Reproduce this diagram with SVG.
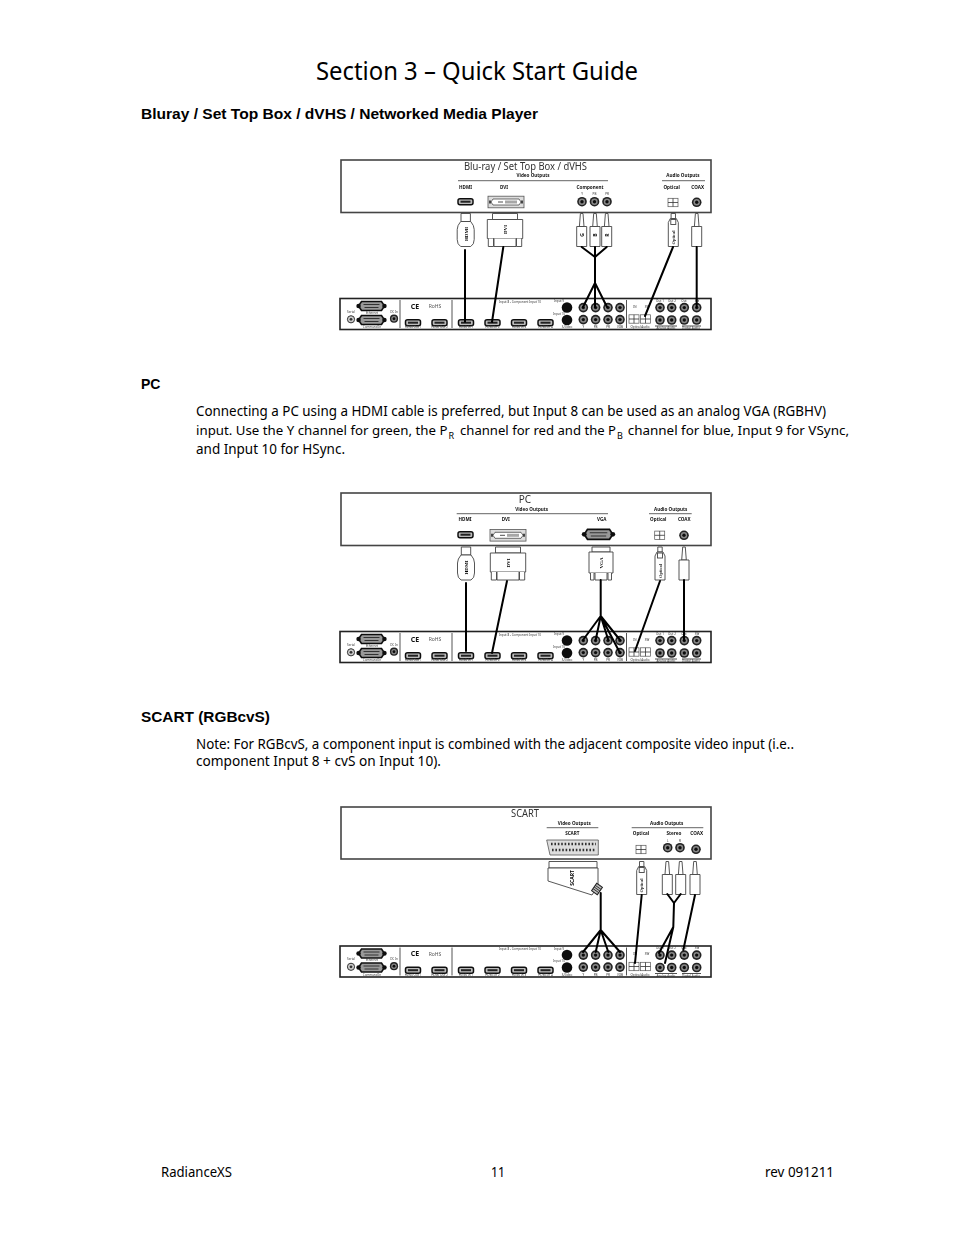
<svg xmlns="http://www.w3.org/2000/svg" xmlns:xlink="http://www.w3.org/1999/xlink" width="954" height="1235" viewBox="0 0 954 1235">
<style>
.t{font-family:"Noto Sans","DejaVu Sans",sans-serif;fill:#000}
.b{font-size:13.5px}
.h{font-family:"Liberation Sans",Arial,sans-serif;font-weight:700;font-size:14px;fill:#000}
.s{font-family:"Noto Sans","DejaVu Sans",sans-serif;fill:#111}
.ti{font-size:10px;fill:#333}
.lb{font-size:4.6px;font-weight:700;text-anchor:middle}
.tn{font-size:3px;text-anchor:middle;fill:#333}
.rt{font-size:5px;font-weight:700;text-anchor:middle}
.box{fill:#fff;stroke:#444;stroke-width:1.6}
.ln{fill:none;stroke:#222;stroke-width:.7}
.pl{fill:#fff;stroke:#444;stroke-width:.9}
.cb{fill:none;stroke:#000;stroke-width:2;stroke-linecap:round;stroke-linejoin:round}
</style>
<defs>
<filter id="bl" x="-2%" y="-2%" width="104%" height="104%"><feGaussianBlur stdDeviation="0.45"/></filter>
<g id="jack"><circle r="4.8" fill="#222"/><circle r="3.2" fill="#888"/><circle r="1.7" fill="#111"/></g>
<g id="hd"><rect x="-7.5" y="-3" width="15" height="6" rx="2" fill="#bbb" stroke="#111" stroke-width="1.5"/><rect x="-5" y="-1" width="10" height="2" fill="#222"/></g>
<g id="opt"><rect x="-5" y="-4.2" width="10" height="8.4" fill="#fff" stroke="#555" stroke-width=".7"/><path d="M0-4.2V4.2M-5 0H5" stroke="#333" stroke-width=".8"/></g>
<g id="db"><path d="M-10-4.5H10L12-1.5V1.5L10 4.5H-10L-12 1.5V-1.5Z" fill="#999" stroke="#111" stroke-width="1.6"/><circle cx="-13" r="2.2" fill="#111"/><circle cx="13" r="2.2" fill="#111"/><path d="M-8-1.5H8M-7 1.5H7" stroke="#333" stroke-width="1"/></g>
<g id="dvi"><rect x="-18" y="-5.8" width="36" height="11.6" fill="#ddd" stroke="#555" stroke-width=".8"/><path d="M-13-3H13L15 0 13 3H-13L-15 0Z" fill="#fff" stroke="#333" stroke-width=".7"/><path d="M-16-1.5V1.5M16-1.5V1.5" stroke="#222" stroke-width="1.6"/><path d="M-8 0H-3M0-1.5V1.5M2-1.5V1.5M4-1.5V1.5M6-1.5V1.5M8-1.5V1.5M10-1.5V1.5" stroke="#222" stroke-width=".8"/></g>
<g id="rcaP"><path d="M-1.3 0H1.3L2.3 13H-2.3Z" class="pl"/><path d="M-5 33V13H5V33Z" class="pl"/></g>
<g id="optP"><path d="M-2.2 0H2.2V5H-2.2Z" class="pl"/><path d="M-5 33V9L-3 5H3L5 9V33Z" class="pl"/><rect x="-2.5" y="6" width="5" height="5" class="pl"/><text class="tn" style="font-size:4.4px;font-weight:700" transform="translate(1.6,24) rotate(-90)">Optical</text></g>
<g id="hdP"><path d="M-4.7 0H4.7V8H-4.7Z" class="pl"/><path d="M-5 8H5Q8.5 12 8.5 16V26Q8.5 31 5 33H-5Q-8.5 31-8.5 26V16Q-8.5 12-5 8Z" class="pl"/><text class="rt" transform="translate(1.8,20.5) rotate(-90)">HDMI</text></g>
<g id="dviP"><path d="M-12.5 0H12.5V6H-12.5Z" class="pl"/><path d="M-17.7 6H17.7V25H-17.7Z" class="pl"/><path d="M-11 25V33H11V25M-16.7 25V33H-11.5V25M11.5 25V33H16.7V25" class="pl"/><text class="rt" transform="translate(1.8,16) rotate(-90)">DVI</text></g>
<g id="rear">
<rect x="340" y="298.5" width="371" height="31" class="box" style="stroke:#222"/>
<path d="M400 300V328M452 300V328M626.5 300V328" stroke="#555" stroke-width="1"/>
<use href="#db" x="371.5" y="306"/><use href="#db" x="371.5" y="320"/>
<g transform="translate(351,319.3)"><circle r="3.6" fill="#ccc" stroke="#333"/><circle r="1.4" fill="#333"/></g>
<g transform="translate(394,318.7) scale(.85)"><use href="#jack"/></g>
<text class="s tn" x="351" y="312.5">Serial</text><text class="s tn" x="394" y="312.5">DC In</text>
<text class="s tn" x="372" y="313.5">Ethernet</text><text class="s tn" x="372" y="328">Command In</text>
<text x="415" y="308.5" class="s" style="font-size:7px;font-weight:700;text-anchor:middle">CE</text>
<text x="435" y="308" class="s" style="font-size:5px;text-anchor:middle;fill:#555">RoHS</text>
<use href="#hd" x="413" y="322.7"/><use href="#hd" x="439.5" y="322.7"/><use href="#hd" x="466" y="322.7"/><use href="#hd" x="492.5" y="322.7"/><use href="#hd" x="519" y="322.7"/><use href="#hd" x="545.5" y="322.7"/>
<text class="s tn" x="413" y="328.3">HDMI Out 1</text><text class="s tn" x="439.5" y="328.3">HDMI Out 2</text><text class="s tn" x="466" y="328.3">HDMI In 1</text><text class="s tn" x="492.5" y="328.3">HDMI In 2</text><text class="s tn" x="519" y="328.3">HDMI In 3</text><text class="s tn" x="545.5" y="328.3">HDMI In 4</text>
<text class="s tn" x="520" y="302.5">Input 8 - Component Input 10</text>
<circle cx="567" cy="307.5" r="5.3" fill="#111"/><circle cx="567" cy="320" r="5.3" fill="#111"/>
<text class="s tn" x="559" y="302">Input 9</text><text class="s tn" x="559" y="314.5">Input 10</text><text class="s tn" x="567" y="328.3">S-Video</text>
<use href="#jack" x="583.3" y="307.6"/><use href="#jack" x="595.6" y="307.6"/><use href="#jack" x="608" y="307.6"/><use href="#jack" x="620" y="307.6"/>
<use href="#jack" x="583.3" y="319.6"/><use href="#jack" x="595.6" y="319.6"/><use href="#jack" x="608" y="319.6"/><use href="#jack" x="620" y="319.6"/>
<text class="s tn" x="583.3" y="328.3">Y</text><text class="s tn" x="595.6" y="328.3">PB</text><text class="s tn" x="608" y="328.3">PR</text><text class="s tn" x="620" y="328.3">VOB</text>
<text class="s tn" x="635" y="307.5">IN</text><text class="s tn" x="647" y="307.5">SW</text>
<use href="#opt" x="634" y="319"/><use href="#opt" x="645.5" y="319"/>
<text class="s tn" x="640" y="328.3">Optical Audio</text>
<use href="#jack" x="660" y="307.6"/><use href="#jack" x="671.7" y="307.6"/><use href="#jack" x="684.3" y="307.6"/><use href="#jack" x="696.7" y="307.6"/>
<use href="#jack" x="660" y="320"/><use href="#jack" x="671.7" y="320"/><use href="#jack" x="684.3" y="320"/><use href="#jack" x="696.7" y="320"/>
<path d="M655 326H677M682 326H701" stroke="#222" stroke-width=".8"/>
<text class="s tn" x="666" y="329">Analog Audio</text><text class="s tn" x="691" y="329">Digital Audio</text>
<text class="s tn" x="660" y="301.5">Out 1</text><text class="s tn" x="672" y="301.5">Out 2</text><text class="s tn" x="684" y="301.5">Out</text><text class="s tn" x="697" y="301.5">SW</text>
</g>
</defs>
<rect width="954" height="1235" fill="#fff"/>
<g id="page-text">
<text class="t" x="316" y="80" font-size="25" textLength="322" lengthAdjust="spacingAndGlyphs">Section 3 – Quick Start Guide</text>
<text class="h" x="141" y="119" textLength="397" lengthAdjust="spacingAndGlyphs">Bluray / Set Top Box / dVHS / Networked Media Player</text>
<text class="h" x="141" y="389">PC</text>
<text class="t b" x="196" y="416" textLength="630" lengthAdjust="spacingAndGlyphs">Connecting a PC using a HDMI cable is preferred, but Input 8 can be used as an analog VGA (RGBHV)</text>
<text class="t" style="font-size:13px" y="435"><tspan x="196" textLength="251.5" lengthAdjust="spacingAndGlyphs">input. Use the Y channel for green, the P</tspan><tspan x="448.5" y="439" font-size="9">R</tspan><tspan x="460" y="435" textLength="156" lengthAdjust="spacingAndGlyphs">channel for red and the P</tspan><tspan x="617" y="439" font-size="9">B</tspan><tspan x="627.7" y="435" textLength="221.3" lengthAdjust="spacingAndGlyphs">channel for blue, Input 9 for VSync,</tspan></text>
<text class="t b" x="196" y="454" textLength="149" lengthAdjust="spacingAndGlyphs">and Input 10 for HSync.</text>
<text class="h" x="141" y="722" textLength="129" lengthAdjust="spacingAndGlyphs">SCART (RGBcvS)</text>
<text class="t b" x="196" y="749" textLength="598" lengthAdjust="spacingAndGlyphs">Note: For RGBcvS, a component input is combined with the adjacent composite video input (i.e..</text>
<text class="t b" x="196" y="766" textLength="245" lengthAdjust="spacingAndGlyphs">component Input 8 + cvS on Input 10).</text>
<text class="t b" x="161" y="1177" textLength="71" lengthAdjust="spacingAndGlyphs">RadianceXS</text>
<text class="t b" x="491" y="1177" textLength="14" lengthAdjust="spacingAndGlyphs">11</text>
<text class="t b" x="765" y="1177" textLength="69" lengthAdjust="spacingAndGlyphs">rev 091211</text>
</g>
<g filter="url(#bl)">
<g id="source-bluray">
<rect x="341" y="160" width="370" height="52.5" class="box"/>
<text class="s ti" x="464" y="170" textLength="123" lengthAdjust="spacingAndGlyphs">Blu-ray / Set Top Box / dVHS</text>
<text class="s lb" x="533" y="177">Video Outputs</text><text class="s lb" x="683" y="177">Audio Outputs</text>
<path d="M458 180.7H608M662 180.7H705" class="ln"/>
<text class="s lb" x="465.5" y="188.5">HDMI</text><text class="s lb" x="504" y="188.5">DVI</text><text class="s lb" x="590" y="188.5">Component</text><text class="s lb" x="671.7" y="188.5">Optical</text><text class="s lb" x="697.7" y="188.5">COAX</text>
<text class="s tn" x="582" y="194.5">Y</text><text class="s tn" x="594.5" y="194.5">PB</text><text class="s tn" x="607" y="194.5">PR</text>
<use href="#hd" x="465.5" y="201.7"/><use href="#dvi" x="506" y="202"/>
<use href="#jack" x="582" y="201.7"/><use href="#jack" x="594.5" y="201.7"/><use href="#jack" x="607" y="201.7"/>
<use href="#opt" x="673" y="202.5"/><use href="#jack" x="696.7" y="202.3"/>
<use href="#hdP" x="465.7" y="213.5"/><use href="#dviP" x="505" y="213.5"/>
<use href="#rcaP" x="581.7" y="213.5"/><use href="#rcaP" x="595" y="213.5"/><use href="#rcaP" x="606.7" y="213.5"/>
<text class="s rt" transform="translate(583.5,235) rotate(-90)">G</text><text class="s rt" transform="translate(596.8,235) rotate(-90)">B</text><text class="s rt" transform="translate(608.5,235) rotate(-90)">R</text>
<use href="#optP" x="673.3" y="213.5"/><use href="#rcaP" x="696.7" y="213.5"/>
</g>
<g id="processor-1"><use href="#rear"/></g>
<g id="source-pc">
<rect x="341" y="493" width="370" height="52.5" class="box"/>
<text class="s ti" x="525" y="503" style="text-anchor:middle">PC</text>
<text class="s lb" x="531.7" y="511">Video Outputs</text><text class="s lb" x="670.7" y="511">Audio Outputs</text>
<path d="M456.7 513.7H608M649 513.7H691.7" class="ln"/>
<text class="s lb" x="465" y="521">HDMI</text><text class="s lb" x="505.7" y="521">DVI</text><text class="s lb" x="601.7" y="521">VGA</text><text class="s lb" x="658.3" y="521">Optical</text><text class="s lb" x="684.3" y="521">COAX</text>
<use href="#hd" x="465.5" y="534.7"/><use href="#dvi" x="508" y="535.3"/>
<use href="#db" x="598.5" y="534.3" transform="translate(-59.85,-53.4) scale(1.1)"/>
<use href="#opt" x="659.7" y="535.3"/><use href="#jack" x="684" y="535.3"/>
<use href="#hdP" x="466" y="547"/><use href="#dviP" x="508" y="547"/>
<g transform="translate(601,547)"><path d="M-9 0H9V5H-9Z" class="pl"/><path d="M-12 5H12V26H-12Z" class="pl"/><path d="M-6 26V33H6V26M-10.5 26V33H-7V26M7 26V33H10.5V26" class="pl"/><text class="rt" transform="translate(1.8,16) rotate(-90)">VGA</text></g>
<use href="#optP" x="660" y="547"/><use href="#rcaP" x="684" y="547"/>
</g>
<g id="processor-2" transform="translate(0,333)"><use href="#rear"/></g>
<g id="source-scart">
<rect x="341" y="807" width="370" height="52" class="box"/>
<text class="s ti" x="511" y="817" textLength="28" lengthAdjust="spacingAndGlyphs">SCART</text>
<text class="s lb" x="574.3" y="825">Video Outputs</text><text class="s lb" x="666.7" y="825">Audio Outputs</text>
<path d="M546.7 827.7H598.3M631.7 827.7H703.3" class="ln"/>
<text class="s lb" x="572.3" y="835">SCART</text><text class="s lb" x="641" y="835">Optical</text><text class="s lb" x="674" y="835">Stereo</text><text class="s lb" x="696.7" y="835">COAX</text>
<text class="s tn" x="667.7" y="841.5">L</text><text class="s tn" x="680" y="841.5">R</text>
<path d="M546.7 840H598.3V855H550Z" fill="#ddd" stroke="#555" stroke-width=".8"/>
<path d="M551 844H596M552 850H596" stroke="#333" stroke-width="2.4" stroke-dasharray="1.6 1.8"/>
<use href="#opt" x="641" y="849.5"/><use href="#jack" x="667.7" y="847.7"/><use href="#jack" x="680" y="847.7"/><use href="#jack" x="696" y="849.3"/>
<path d="M549 861.5H597V868H549Z" class="pl"/>
<path d="M548 868H598V886L592 895 548 881Z" class="pl"/>
<text class="rt" style="font-family:'Noto Sans',sans-serif" transform="translate(574,878) rotate(-90)">SCART</text>
<g transform="translate(597,889) rotate(35)"><rect x="-3.5" y="-4.5" width="7" height="9" fill="#bbb" stroke="#222"/><path d="M-3.5-2H3.5M-3.5 0H3.5M-3.5 2H3.5" stroke="#222" stroke-width=".8"/></g>
<use href="#optP" x="641.7" y="861.5"/><use href="#rcaP" x="667.3" y="861.5"/><use href="#rcaP" x="680.7" y="861.5"/><use href="#rcaP" x="695" y="861.5"/>
</g>
<g id="processor-3" transform="translate(0,647.5)"><use href="#rear"/></g>
<g id="connectors" class="cb">
<path d="M465 250V322"/><path d="M503.3 247L492 322"/>
<path d="M581.7 247L595 257L606.7 247M595 247V283M583 307L595 283L607 307M595 283V307"/>
<path d="M673 247L645 316"/><path d="M696.7 247V307"/>
<path d="M466 583V651"/><path d="M507 581L492 653"/>
<path d="M600.7 580V616L583 640M600.7 616L595.7 640M600.7 616L608.3 640M600.7 616L620 640M600.7 616L620 653"/>
<path d="M660 581L635 651"/><path d="M684 580V640"/>
<path d="M600.7 893V930L583 952M600.7 930L595.7 952M600.7 930L608.3 952M600.7 930L620 952"/>
<path d="M641.7 895L635 963"/>
<path d="M667.3 894L674 903L680.7 894M674 903L673.3 927L659 953M673.3 927L665 963"/>
<path d="M695 895L683.3 950"/>
</g>
</g>
</svg>
